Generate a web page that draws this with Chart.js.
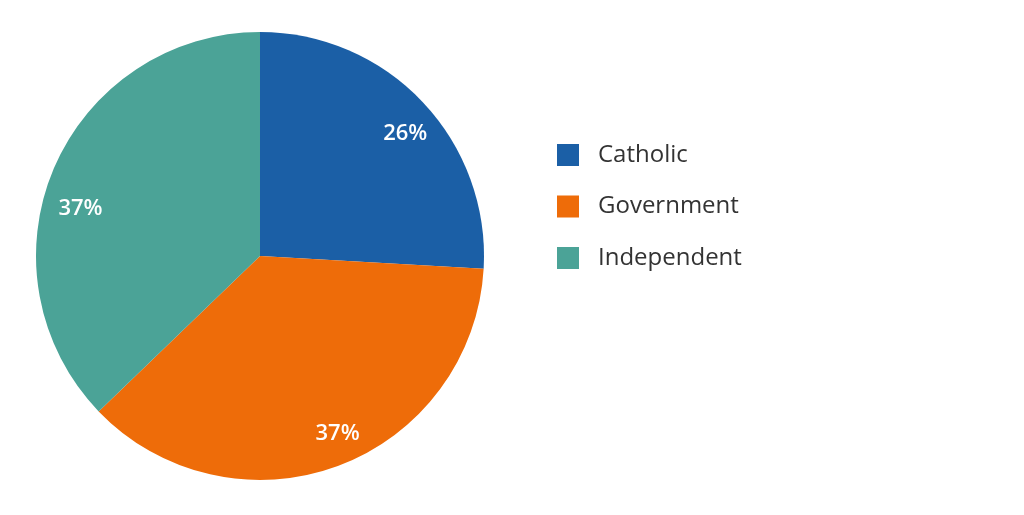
<!DOCTYPE html>
<html>
<head>
<meta charset="utf-8">
<script src="https://cdn.jsdelivr.net/npm/chart.js@4"></script>
<style>
  html, body { margin: 0; padding: 0; background: #fff; }
  #wrap { width: 1024px; height: 515px; }
</style>
</head>
<body>
<div id="wrap"><canvas id="myChart"></canvas></div>
<script>
const sectors = ['Catholic', 'Government', 'Independent'];
const shares = [25.9, 36.9, 37.2];
const shareLabels = ['26%', '37%', '37%'];  // printed on the slices
const colours = ['#1b5fa6', '#ee6c09', '#4ba397'];

const fontFamily = '"Open Sans", "Noto Sans", sans-serif';

// small nudges so the labels sit where the original puts them
const labelTurn = [3.1, -3.4, -7.9];     // degrees off the slice middle
const labelDist = [0.85, 0.86, 0.83];    // fraction of the radius

// percentage text inside each slice
const sliceLabels = {
  id: 'sliceLabels',
  afterDatasetsDraw(chart) {
    const ctx = chart.ctx;
    const meta = chart.getDatasetMeta(0);
    ctx.save();
    ctx.fillStyle = '#ffffff';
    ctx.font = '600 22px ' + fontFamily;
    ctx.textAlign = 'center';
    ctx.textBaseline = 'middle';
    meta.data.forEach((arc, i) => {
      const mid = (arc.startAngle + arc.endAngle) / 2 + labelTurn[i] * Math.PI / 180;
      const r = arc.outerRadius * labelDist[i];
      ctx.fillText(shareLabels[i], arc.x + Math.cos(mid) * r, arc.y + Math.sin(mid) * r + 1);
    });
    ctx.restore();
  }
};

// legend on the right, drawn by hand so it sits where the reference has it
const sideLegend = {
  id: 'sideLegend',
  afterDraw(chart) {
    const ctx = chart.ctx;
    ctx.save();
    ctx.font = '24px ' + fontFamily;
    ctx.textBaseline = 'middle';
    sectors.forEach((name, i) => {
      const y = 155 + i * 51.5;
      ctx.fillStyle = colours[i];
      ctx.fillRect(557, y - 11, 22, 22);
      ctx.fillStyle = '#333333';
      ctx.fillText(name, 598, y);
    });
    ctx.restore();
  }
};

new Chart(document.getElementById('myChart'), {
  type: 'pie',
  data: {
    labels: sectors,
    datasets: [{
      data: shares,
      backgroundColor: colours,
      borderWidth: 0
    }]
  },
  options: {
    responsive: true,
    maintainAspectRatio: false,
    animation: false,
    layout: { padding: { left: 36, right: 540, top: 32, bottom: 35 } },
    plugins: {
      legend: { display: false },
      tooltip: { enabled: false }
    }
  },
  plugins: [sliceLabels, sideLegend]
});
</script>
</body>
</html>
